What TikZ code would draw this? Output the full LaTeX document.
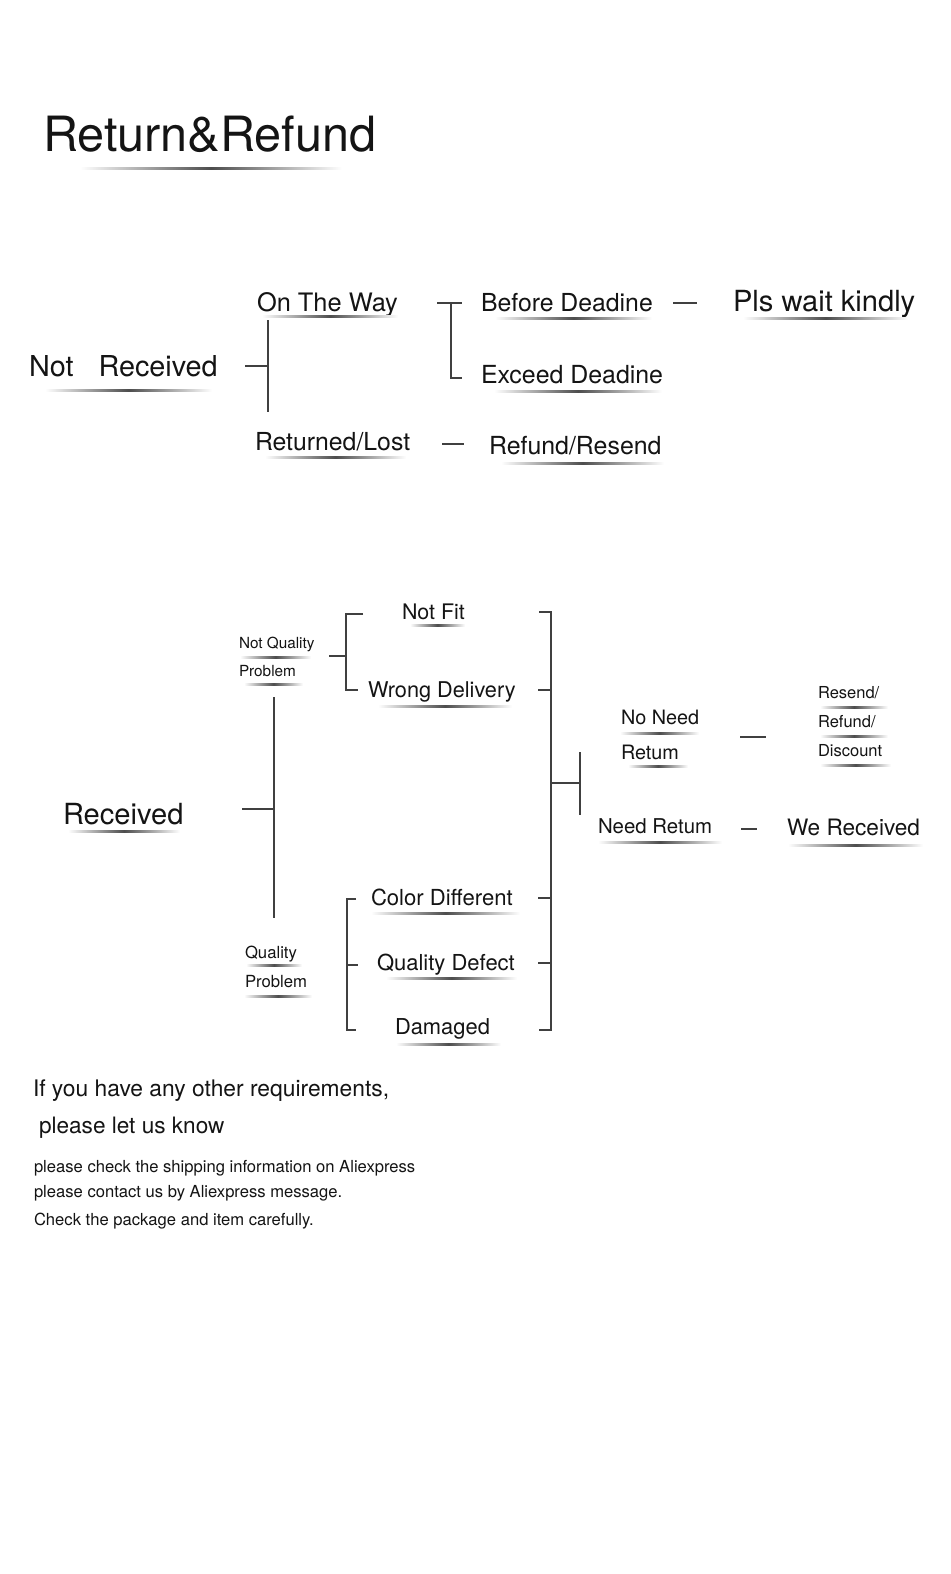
\documentclass[tikz,border=0pt]{standalone}
\usepackage{fontspec}
\setmainfont{TeX Gyre Heros}
\newcommand\fsz[1]{\fontsize{#1bp}{#1bp}\selectfont}
\tikzset{
  txt/.style={anchor=base west, inner sep=0pt, outer sep=0pt, text=black!92},
  conn/.style={draw=black!75, line width=1.7bp},
  ulshade/.style={left color=white, right color=white, middle color=black!70, draw=none},
}
\newcommand\ulbar[3]{\shade[ulshade] (#1,#3-1) rectangle (#2,#3+1.2);}
\begin{document}
\begin{tikzpicture}[x=1bp,y=-1bp]
\useasboundingbox (0,0) rectangle (950,1574);
\fill[white] (0,0) rectangle (950,1574);

% Title
\node[txt,font=\fsz{48.6}] (title) at (43,152) {Return\&Refund};
\ulbar{80}{342}{168}

% ---------- Not Received ----------
\node[txt,font=\fsz{28.8}] (nr) at (29,376) {Not\hspace{25bp}Received};
\ulbar{45}{212}{390}
\node[txt,font=\fsz{25.4}] (otw) at (257,311) {On The Way};
\ulbar{262}{398}{316}
\node[txt,font=\fsz{24.8}] (rl) at (255,450) {Returned/Lost};
\ulbar{265}{406}{457}
\node[txt,font=\fsz{24.8}] (bd) at (481,311) {Before Deadine};
\ulbar{495}{652}{318}
\node[txt,font=\fsz{24.9}] (ed) at (481,383) {Exceed Deadine};
\ulbar{494}{662}{391}
\node[txt,font=\fsz{29.1}] (pls) at (733,311) {Pls wait kindly};
\ulbar{743}{908}{318}
\node[txt,font=\fsz{24.9}] (rr) at (489,454) {Refund/Resend};
\ulbar{501}{664}{463}

\draw[conn] (245,366) coordinate (nrE) -- (268,366) coordinate (nrJ);
\draw[conn] (268,320) coordinate (nrT) -- (268,412) coordinate (nrB);
\draw[conn] (437,303) coordinate (otwE) -- (462,303) coordinate (bdE);
\draw[conn] (451,303) coordinate (brT) -- (451,378) coordinate (brB) -- (462,378) coordinate (edE);
\draw[conn] (673,303) coordinate (bdD) -- (697,303) coordinate (plsD);
\draw[conn] (442,444) coordinate (rlD) -- (464,444) coordinate (rrD);

% ---------- Received ----------
\node[txt,font=\fsz{29.1}] (rec) at (63,824) {Received};
\ulbar{68}{180}{831}
\node[txt,font=\fsz{15.3}] (nq1) at (239,648) {Not Quality};
\ulbar{240}{311}{657}
\node[txt,font=\fsz{15.3}] (nq2) at (239,676) {Problem};
\ulbar{244}{303}{684}
\node[txt,font=\fsz{16.7}] (q1) at (245,958) {Quality};
\ulbar{246}{302}{965}
\node[txt,font=\fsz{16.7}] (q2) at (245,987) {Problem};
\ulbar{244}{312}{996}

\node[txt,font=\fsz{21.4}] (nf) at (402,619) {Not Fit};
\ulbar{410}{465}{625}
\node[txt,font=\fsz{21.7}] (wd) at (368,697) {Wrong Delivery};
\ulbar{378}{512}{706}
\node[txt,font=\fsz{22.1}] (cd) at (371,905) {Color Different};
\ulbar{371}{520}{913}
\node[txt,font=\fsz{22}] (qd) at (377,970) {Quality Defect};
\ulbar{386}{517}{978}
\node[txt,font=\fsz{21.9}] (dm) at (395,1034) {Damaged};
\ulbar{396}{501}{1044}

\node[txt,font=\fsz{19.8}] (nn1) at (621,724) {No Need};
\ulbar{620}{699}{733}
\node[txt,font=\fsz{19.8}] (nn2) at (621,759) {Retum};
\ulbar{628}{688}{766}
\node[txt,font=\fsz{20.4}] (nrt) at (598,833) {Need Retum};
\ulbar{598}{722}{842}
\node[txt,font=\fsz{16.5}] (rs1) at (818,698) {Resend/};
\ulbar{820}{888}{707}
\node[txt,font=\fsz{16.5}] (rs2) at (818,727) {Refund/};
\ulbar{820}{888}{736}
\node[txt,font=\fsz{16.5}] (rs3) at (818,756) {Discount};
\ulbar{820}{891}{765}
\node[txt,font=\fsz{22.6}] (wr) at (787,835) {We Received};
\ulbar{788}{923}{845}

% connectors
\draw[conn] (242,809) coordinate (recE) -- (274,809) coordinate (recJ);
\draw[conn] (274,697) coordinate (recT) -- (274,918) coordinate (recB);
\draw[conn] (329,656) coordinate (nqE) -- (346,656) coordinate (nqJ);
\draw[conn] (363,614) coordinate (nfE) -- (346,614) coordinate (b1T) -- (346,690) coordinate (b1B) -- (358,690) coordinate (wdE);
\draw[conn] (356,899) coordinate (cdE) -- (347,899) coordinate (b2T) -- (347,1030) coordinate (b2B) -- (356,1030) coordinate (dmE);
\draw[conn] (347,965) coordinate (b2M) -- (358,965) coordinate (qdE);
\draw[conn] (539,612) coordinate (nfR) -- (551,612) coordinate (rbT) -- (551,1030) coordinate (rbB) -- (539,1030) coordinate (dmR);
\draw[conn] (538,690) coordinate (wdR) -- (551,690) coordinate (rb1);
\draw[conn] (538,898) coordinate (cdR) -- (551,898) coordinate (rb2);
\draw[conn] (538,963) coordinate (qdR) -- (551,963) coordinate (rb3);
\draw[conn] (551,783) coordinate (rbM) -- (580,783) coordinate (mJ);
\draw[conn] (580,752) coordinate (mT) -- (580,815) coordinate (mB);
\draw[conn] (740,737) coordinate (nnD) -- (766,737) coordinate (rsD);
\draw[conn] (741,829) coordinate (nrtD) -- (757,829) coordinate (wrD);

% Footer
\node[txt,font=\fsz{22.8}] (f1) at (33,1096) {If you have any other requirements,};
\node[txt,font=\fsz{22.6}] (f2) at (39,1133) {please let us know};
\node[txt,font=\fsz{16.6}] (f3) at (34,1172) {please check the shipping information on Aliexpress};
\node[txt,font=\fsz{16.6}] (f4) at (34,1197) {please contact us by Aliexpress message.};
\node[txt,font=\fsz{16.6}] (f5) at (34,1225) {Check the package and item carefully.};
\end{tikzpicture}
\end{document}
